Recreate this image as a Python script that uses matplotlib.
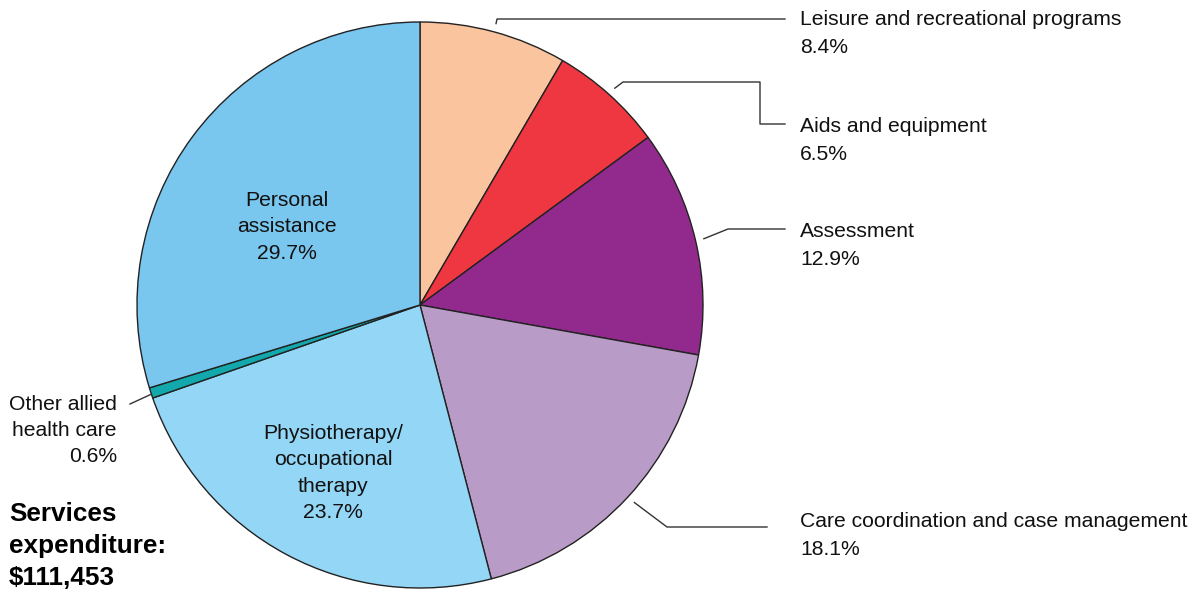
import numpy as np
import matplotlib.pyplot as plt

plt.rcParams['font.family'] = ['Liberation Sans', 'DejaVu Sans']

W, H = 1204, 591

categories = ['Leisure and recreational programs', 'Aids and equipment', 'Assessment',
              'Care coordination and case management', 'Physiotherapy/\noccupational\ntherapy',
              'Other allied\nhealth care', 'Personal\nassistance']
shares = [8.4, 6.5, 12.9, 18.1, 23.7, 0.6, 29.7]
colors = ['#FAC49E', '#EE3741', '#922A8D', '#B99BC8', '#93D6F5', '#13A8AB', '#79C6EE']
total_label = 'Services\nexpenditure:\n$111,453'

fig = plt.figure(figsize=(W / 100, H / 100), dpi=100)
ax = fig.add_axes([0, 0, 1, 1])

cx, cy, R = 420, H - 305, 283

def py(y):
    # pixel row (from top) -> data y
    return H - y

wedges, _ = ax.pie(shares, colors=colors, startangle=90, counterclock=False,
                   center=(cx, cy), radius=R, frame=True,
                   wedgeprops=dict(edgecolor='#222222', linewidth=1.0))
ax.set_xlim(0, W)
ax.set_ylim(0, H)
ax.set_aspect('equal')
ax.axis('off')

# mid angle of each slice
cum = np.cumsum([0] + shares)
mids = [90 - (cum[i] + shares[i] / 2) * 3.6 for i in range(len(shares))]

def edge(i, k=1.03):
    a = np.deg2rad(mids[i])
    return cx + k * R * np.cos(a), cy + k * R * np.sin(a)

fs = 15.2
lc = '#333333'
tc = '#111111'

# outside labels: (index, elbow points in pixel coords, text x, first line pixel row)
outside = [
    (0, [(497, 19), (785, 19)], 800, 20),
    (1, [(623, 82), (760, 82), (760, 124), (785, 124)], 800, 127),
    (2, [(728, 229), (785, 229)], 800, 232),
    (3, [(667, 527), (767, 527)], 800, 522),
]
for i, pts, tx, ty in outside:
    x0, y0 = edge(i)
    xs = [x0] + [p[0] for p in pts]
    ys = [y0] + [py(p[1]) for p in pts]
    ax.plot(xs, ys, color=lc, lw=1.0)
    ax.text(tx, py(ty + 13.5), categories[i] + '\n' + f'{shares[i]}%', fontsize=fs,
            ha='left', va='center', linespacing=1.57, color=tc)

# Other allied health care
x0, y0 = edge(5, 1.0)
ax.plot([x0, 130], [y0, py(404)], color=lc, lw=1.0)
ax.text(117, py(430.5), categories[5] + '\n' + f'{shares[5]}%', fontsize=fs,
        ha='right', va='center', linespacing=1.45, color=tc)

# inside labels
ax.text(287, py(227), categories[6] + '\n' + f'{shares[6]}%', fontsize=fs,
        ha='center', va='center', linespacing=1.51, color=tc)
ax.text(333, py(473), categories[4] + '\n' + f'{shares[4]}%', fontsize=fs,
        ha='center', va='center', linespacing=1.47, color=tc)

ax.text(9, py(546), total_label, fontsize=18.8, fontweight='bold', ha='left',
        va='center', linespacing=1.4, color='#000000')

fig.savefig('out.png', dpi=100)
